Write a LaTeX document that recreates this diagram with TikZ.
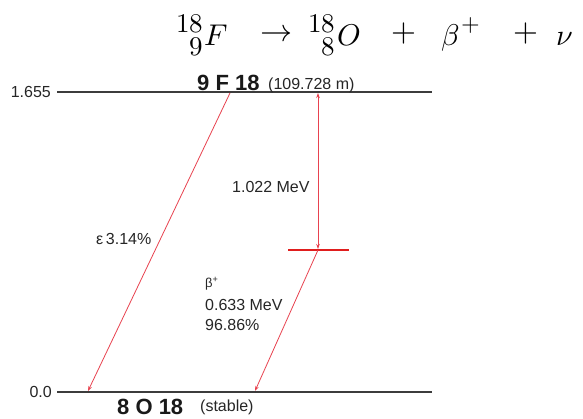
\documentclass[tikz,border=0pt]{standalone}
\usepackage{fontspec}
\usepackage{unicode-math}
\setmainfont{Liberation Sans}
\setmathfont{Latin Modern Math}
\usetikzlibrary{arrows.meta}
\definecolor{lvl}{HTML}{3C3C3C}
\definecolor{transc}{HTML}{E8424F}
\definecolor{barc}{HTML}{E01E1E}
\begin{document}
\begin{tikzpicture}[x=1pt,y=-1pt,
  level/.style={draw=lvl, line width=2pt},
  trans/.style={draw=transc, line width=0.8pt, -{Stealth[length=5pt,width=3.5pt]}},
  lbl/.style={font=\fontsize{16}{19}\selectfont, inner sep=0pt, text=black!85},
  nuc/.style={font=\bfseries\fontsize{22}{26}\selectfont, inner sep=0pt, text=black!90},
  eqm/.style={font=\fontsize{30}{34}\selectfont, inner sep=0pt, anchor=base west},
  eqs/.style={font=\fontsize{27}{30}\selectfont, inner sep=0pt},
  eqop/.style={font=\fontsize{32}{36}\selectfont, inner sep=0pt, anchor=center}]
\useasboundingbox[fill=white] (0,0) rectangle (583,418);
% equation
\node[eqs, anchor=base west] (s1) at (176,32) {$18$};
\node[eqs, anchor=base east] (z1) at (s1.base east |- 0,55) {$9$};
\node[eqm] (F) at (204,45) {$F$};
\node[eqop] (arr) at (276,33) {$\rightarrow$};
\node[eqs, anchor=base west] (s2) at (308,32) {$18$};
\node[eqs, anchor=base east] (z2) at (s2.base east |- 0,55) {$8$};
\node[eqm] (O) at (337,45) {$O$};
\node[eqop] (p1) at (404,33) {$+$};
\node[eqm] (beta) at (441,45) {$\beta$};
\node[eqs, anchor=base west, font=\fontsize{24}{26}\selectfont] (bp) at (461,31) {$+$};
\node[eqop] (p2) at (526,33) {$+$};
\node[eqm] (nu) at (556,45) {$\nu$};
% levels
\coordinate (T0) at (57,92); \coordinate (T1) at (432,92);
\coordinate (B0) at (57,392); \coordinate (B1) at (432,392);
\draw[level] (T0) -- (T1);
\draw[level] (B0) -- (B1);
\node[lbl, anchor=east] (e1) at (51,92) {1.655};
\node[lbl, anchor=east] (e0) at (52,392) {0.0};
\node[nuc, anchor=base west] (F18) at (197,90) {9 F 18};
\node[lbl, anchor=base west] (Fhl) at (268,89) {(109.728 m)};
\node[nuc, anchor=base west] (O18) at (117,414) {8 O 18};
\node[lbl, anchor=base west] (Ost) at (200,411) {(stable)};
% transitions
\coordinate (a1) at (230,93); \coordinate (a2) at (88,391);
\coordinate (v1) at (318,93); \coordinate (v2) at (318,249);
\coordinate (r0) at (288,250); \coordinate (r1) at (349,250);
\coordinate (b1) at (318,250); \coordinate (b2) at (255,391);
\draw[trans] (a1) -- (a2);
\draw[trans, {Stealth[length=5pt,width=3.5pt]}-{Stealth[length=5pt,width=3.5pt]}] (v1) -- (v2);
\draw[draw=barc, line width=2.2pt] (r0) -- (r1);
\draw[trans] (b1) -- (b2);
% labels
\node[lbl, anchor=west] (l1) at (232,187) {1.022 MeV};
\node[lbl, anchor=west] (l2) at (96,239) {ε\,3.14\%};
\node[lbl, anchor=west, font=\fontsize{13}{15}\selectfont] (l3) at (205,284) {β\textsuperscript{+}};
\node[lbl, anchor=west] (l4) at (205,305) {0.633 MeV};
\node[lbl, anchor=west] (l5) at (205,325) {96.86\%};
\end{tikzpicture}
\end{document}
